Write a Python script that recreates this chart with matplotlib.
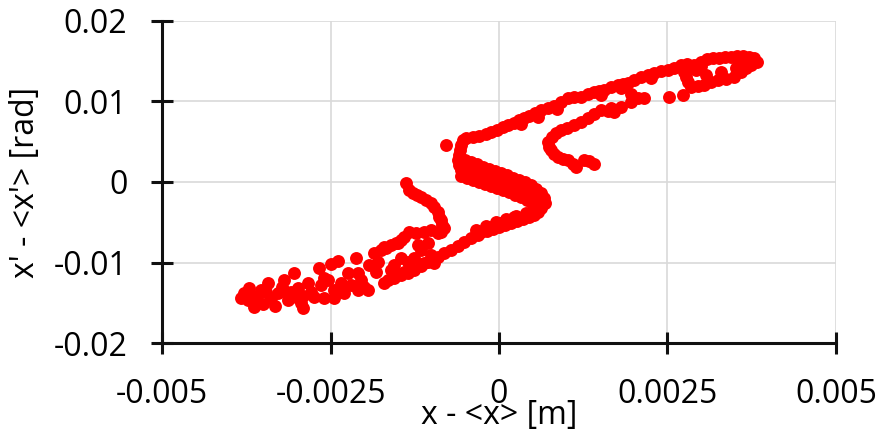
import matplotlib
matplotlib.use('Agg')
import matplotlib.pyplot as plt

FONT = 'Open Sans'
TEXTSIZE = 23
RED = '#ff0000'

X_TICKS = [-0.005, -0.0025, 0, 0.0025, 0.005]
X_TICK_LABELS = ['-0.005', '-0.0025', '0', '0.0025', '0.005']
Y_TICKS = [-0.02, -0.01, 0, 0.01, 0.02]
Y_TICK_LABELS = ['-0.02', '-0.01', '0', '0.01', '0.02']

# lower-left cluster
x_cluster = [-0.00378, -0.00372, -0.00364, -0.00371, -0.00359, -0.00353, -0.00350, -0.00343,
             -0.00338, -0.00332, -0.00328, -0.00322, -0.00319, -0.00313, -0.00309, -0.00304,
             -0.00298, -0.00294, -0.00291, -0.00283, -0.00279, -0.00274, -0.00267, -0.00264,
             -0.00260, -0.00254, -0.00249, -0.00245, -0.00239, -0.00234, -0.00230, -0.00224,
             -0.00220, -0.00212, -0.00209, -0.00205, -0.00200, -0.00193, -0.00185, -0.00182,
             -0.00180, -0.00171, -0.00165, -0.00160, -0.00156, -0.00150, -0.00145, -0.00141,
             -0.00291, -0.00260, -0.00245, -0.00209, -0.00194, -0.00171, -0.00383, -0.00368,
             -0.00346, -0.00316, -0.00301]
y_cluster = [-0.0138, -0.0147, -0.0155, -0.0132, -0.0142, -0.0134, -0.0152, -0.0125,
             -0.0144, -0.0154, -0.0138, -0.0130, -0.0122, -0.0147, -0.0137, -0.0113,
             -0.0132, -0.0150, -0.0142, -0.0125, -0.0137, -0.0143, -0.0107, -0.0128,
             -0.0119, -0.0122, -0.0102, -0.0134, -0.0098, -0.0125, -0.0138, -0.0113,
             -0.0128, -0.0094, -0.0113, -0.0122, -0.0130, -0.0103, -0.0088, -0.0112,
             -0.0099, -0.0081, -0.0122, -0.0109, -0.0103, -0.0076, -0.0094, -0.0112,
             -0.0157, -0.0144, -0.0144, -0.0134, -0.0134, -0.0125, -0.0144, -0.0142,
             -0.0137, -0.0137, -0.0143]

# lower main arm
x_lower = [0.00022, 0.00010, 0.00003, -0.00007, -0.00016, -0.00027, -0.00031, -0.00042,
           -0.00052, -0.00061, -0.00071, -0.00082, -0.00091, -0.00101, -0.00105, -0.00116,
           -0.00126, -0.00135, -0.00145, -0.00156]
y_lower = [-0.0043, -0.0047, -0.0051, -0.0055, -0.0058, -0.0062, -0.0066, -0.0070,
           -0.0075, -0.0080, -0.0084, -0.0088, -0.0093, -0.0097, -0.0099, -0.0104,
           -0.0109, -0.0113, -0.0116, -0.0119]

# middle branch
x_middle = [-0.00138, -0.00134, -0.00128, -0.00122, -0.00116, -0.00108, -0.00101, -0.00096,
            -0.00091, -0.00089, -0.00086, -0.00085, -0.00082, -0.00086, -0.00091, -0.00101,
            -0.00111, -0.00123, -0.00134, -0.00141, -0.00145, -0.00153, -0.00160, -0.00168,
            -0.00175, -0.00116, -0.00101, -0.00111, -0.00096, -0.00126, -0.00135, -0.00120,
            -0.00105, -0.00079]
y_middle = [-0.0001, -0.0010, -0.0014, -0.0016, -0.0019, -0.0022, -0.0026, -0.0031,
            -0.0037, -0.0043, -0.0047, -0.0053, -0.0057, -0.0062, -0.0063, -0.0060,
            -0.0062, -0.0063, -0.0062, -0.0068, -0.0072, -0.0076, -0.0078, -0.0082,
            -0.0084, -0.0084, -0.0091, -0.0101, -0.0101, -0.0094, -0.0099, -0.0078,
            -0.0076, 0.0046]

# central S band
x_s = [-0.00053, -0.00056, -0.00058, -0.00059, -0.00061, -0.00059, -0.00056, -0.00052,
       -0.00045, -0.00047, -0.00050,
       -0.00053, -0.00046, -0.00039, -0.00031, -0.00024, -0.00016, -0.00009, -0.00001,
       0.00006, 0.00013, 0.00021, 0.00028, 0.00036, 0.00043, 0.00050, 0.00056,
       0.00061, 0.00061, 0.00058,
       -0.00050, -0.00042, -0.00033, -0.00024, -0.00015, -0.00006, 0.00003, 0.00012,
       0.00021, 0.00030, 0.00039, 0.00047, 0.00055, 0.00062, 0.00067, 0.00068,
       -0.00056, -0.00047, -0.00039, -0.00030, -0.00021, -0.00012, -0.00003, 0.00006,
       0.00015, 0.00024, 0.00033, 0.00042, 0.00049, 0.00053,
       0.00062, 0.00058, 0.00052, 0.00045, 0.00036, 0.00027, 0.00018, 0.00009,
       0.00000, -0.00009, -0.00018,
       0.00040, 0.00025, 0.00010, -0.00004, -0.00019, -0.00034]
y_s = [0.0052, 0.0046, 0.0040, 0.0034, 0.0027, 0.0021, 0.0015, 0.0010,
       0.0006, 0.0015, 0.0024,
       0.0017, 0.0015, 0.0012, 0.0010, 0.0007, 0.0006, 0.0004, 0.0001,
       -0.0001, -0.0004, -0.0006, -0.0009, -0.0011, -0.0014, -0.0016, -0.0020,
       -0.0025, -0.0030, -0.0035,
       0.0027, 0.0025, 0.0022, 0.0019, 0.0016, 0.0014, 0.0011, 0.0009,
       0.0005, 0.0002, 0.0000, -0.0004, -0.0009, -0.0014, -0.0020, -0.0026,
       0.0007, 0.0005, 0.0002, 0.0000, -0.0002, -0.0005, -0.0007, -0.0010,
       -0.0012, -0.0016, -0.0019, -0.0022, -0.0026, -0.0032,
       -0.0032, -0.0037, -0.0041, -0.0043, -0.0046, -0.0048, -0.0051, -0.0053,
       -0.0056, -0.0058, -0.0061,
       -0.0039, -0.0042, -0.0046, -0.0050, -0.0055, -0.0060]

# upper main arm
x_upper = [-0.00049, -0.00039, -0.00030, -0.00019, -0.00012, -0.00003, 0.00006, 0.00013,
           0.00022, 0.00030, 0.00037, 0.00045, 0.00053, 0.00062, 0.00073, 0.00082,
           0.00092, 0.00102, 0.00111, 0.00122, 0.00132, 0.00141, 0.00148, 0.00156,
           0.00166, 0.00177, 0.00184, 0.00191, 0.00200, 0.00211, 0.00221, 0.00230,
           0.00240, 0.00251, 0.00260, 0.00270, 0.00279, 0.00289, 0.00300, 0.00309,
           0.00318, 0.00326, 0.00335, 0.00344, 0.00353, 0.00362, 0.00371, 0.00378,
           0.00383, 0.00033, 0.00058, 0.00086, 0.00151, 0.00181, 0.00226, 0.00300,
           0.00366, 0.00356]
y_upper = [0.0055, 0.0056, 0.0057, 0.0060, 0.0062, 0.0065, 0.0068, 0.0071,
           0.0073, 0.0077, 0.0080, 0.0082, 0.0086, 0.0089, 0.0092, 0.0094,
           0.0099, 0.0104, 0.0106, 0.0106, 0.0109, 0.0112, 0.0113, 0.0114,
           0.0118, 0.0120, 0.0122, 0.0123, 0.0127, 0.0130, 0.0133, 0.0135,
           0.0138, 0.0139, 0.0142, 0.0145, 0.0147, 0.0145, 0.0149, 0.0153,
           0.0154, 0.0154, 0.0155, 0.0155, 0.0157, 0.0157, 0.0155, 0.0154,
           0.0149, 0.0072, 0.0081, 0.0091, 0.0108, 0.0117, 0.0129, 0.0144,
           0.0149, 0.0144]

# return loop at the top right
x_loop = [0.00374, 0.00366, 0.00359, 0.00349, 0.00337, 0.00325, 0.00315, 0.00304,
          0.00295, 0.00285, 0.00280, 0.00277, 0.00274, 0.00282, 0.00292, 0.00252,
          0.00273, 0.00307, 0.00329, 0.00352]
y_loop = [0.0145, 0.0142, 0.0137, 0.0130, 0.0128, 0.0127, 0.0124, 0.0120,
          0.0119, 0.0118, 0.0124, 0.0130, 0.0137, 0.0140, 0.0139, 0.0106,
          0.0108, 0.0133, 0.0137, 0.0142]

# inner hook
x_hook = [0.00073, 0.00074, 0.00077, 0.00082, 0.00088, 0.00095, 0.00102, 0.00110,
          0.00114, 0.00126, 0.00134, 0.00141, 0.00079, 0.00085, 0.00092, 0.00101,
          0.00111, 0.00122, 0.00132, 0.00141, 0.00151, 0.00162, 0.00171, 0.00196,
          0.00196, 0.00206, 0.00215, 0.00166, 0.00181]
y_hook = [0.0050, 0.0043, 0.0040, 0.0035, 0.0031, 0.0029, 0.0027, 0.0022,
          0.0019, 0.0027, 0.0026, 0.0022, 0.0056, 0.0061, 0.0065, 0.0067,
          0.0071, 0.0075, 0.0080, 0.0084, 0.0089, 0.0088, 0.0087, 0.0099,
          0.0109, 0.0104, 0.0104, 0.0092, 0.0093]


if __name__ == '__main__':
    plt.rcParams['font.family'] = [FONT, 'DejaVu Sans']

    xs = x_cluster + x_lower + x_middle + x_s + x_upper + x_loop + x_hook
    ys = y_cluster + y_lower + y_middle + y_s + y_upper + y_loop + y_hook

    fig = plt.figure(figsize=[8.81, 4.30], dpi=100)
    ax = fig.add_axes([0.1839, 0.2023, 0.765, 0.7489])

    ax.plot(xs, ys, 'o', color=RED, markersize=9.3, markeredgewidth=0, zorder=3)

    ax.set_xlim(-0.005, 0.005)
    ax.set_ylim(-0.02, 0.02)
    ax.set_xticks(X_TICKS)
    ax.set_xticklabels(X_TICK_LABELS)
    ax.set_yticks(Y_TICKS)
    ax.set_yticklabels(Y_TICK_LABELS)
    ax.grid(True, color='#d9d9d9', lw=1.2, zorder=0)
    ax.set_axisbelow(True)

    for side in ['top', 'right']:
        ax.spines[side].set_visible(False)
    for side in ['left', 'bottom']:
        ax.spines[side].set_linewidth(2.2)
        ax.spines[side].set_color('#111111')
        ax.spines[side].set_zorder(4)
    ax.tick_params(direction='inout', length=16, width=2.2, color='#111111',
                   labelsize=TEXTSIZE, pad=17)

    ax.set_xlabel('x - <x> [m]', fontsize=TEXTSIZE)
    ax.xaxis.set_label_coords(0.5, -0.174)
    ax.xaxis.label.set_va('top')
    ax.set_ylabel("x' - <x'> [rad]", fontsize=TEXTSIZE)
    ax.yaxis.set_label_coords(-0.178, 0.5)

    plt.savefig('out.png', dpi=100)
